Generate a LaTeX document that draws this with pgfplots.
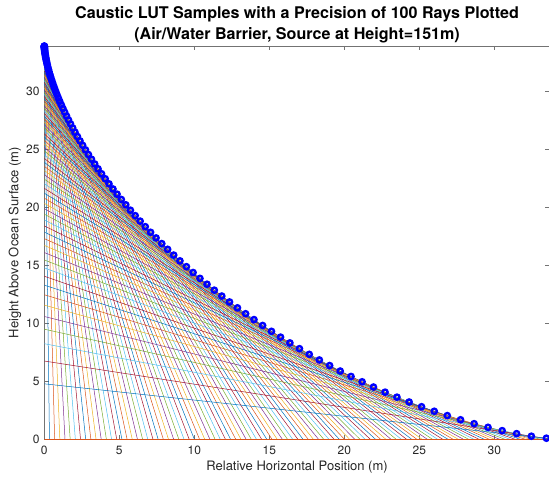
\documentclass[border=0pt]{standalone}
\usepackage{fontspec}
\setmainfont{TeX Gyre Heros}
\usepackage{pgfplots}
\pgfplotsset{compat=1.18}
\definecolor{m1}{rgb}{0,0.447,0.741}
\definecolor{m2}{rgb}{0.85,0.325,0.098}
\definecolor{m3}{rgb}{0.929,0.694,0.125}
\definecolor{m4}{rgb}{0.494,0.184,0.556}
\definecolor{m5}{rgb}{0.466,0.674,0.188}
\definecolor{m6}{rgb}{0.301,0.745,0.933}
\definecolor{m7}{rgb}{0.635,0.078,0.184}
\definecolor{axgray}{rgb}{0.15,0.15,0.15}
\begin{document}
\begin{tikzpicture}
\begin{axis}[
  at={(0,0)}, anchor=south west,
  scale only axis, width=505.5pt, height=393.3pt,
  xmin=0, xmax=33.7, ymin=0, ymax=33.9,
  xtick={0,5,...,30}, ytick={0,5,...,30},
  tick align=inside, major tick length=4.5pt,
  axis line style={black!55, line width=0.5pt},
  every tick/.style={black!55, line width=0.5pt},
  tick label style={font=\fontsize{12}{14}\selectfont, text=axgray},
  /pgf/number format/assume math mode=true,
  xticklabel style={yshift=-3.5pt},
  yticklabel style={xshift=-1.3pt},
  title={Caustic LUT Samples with a Precision of 100 Rays Plotted\\(Air/Water Barrier, Source at Height=151m)},
  title style={at={(axis description cs:0.5,1)}, anchor=south, yshift=-3.5pt, inner sep=0pt, align=center, font=\bfseries\fontsize{16.1}{21}\selectfont, text=black},
  xlabel={Relative Horizontal Position (m)},
  ylabel={Height Above Ocean Surface (m)},
  every axis x label/.style={at={(axis description cs:0.5,-0.0697)}, anchor=center, font=\fontsize{13}{15}\selectfont, text=axgray},
  every axis y label/.style={at={(axis description cs:-0.058,0.5)}, rotate=90, anchor=center, font=\fontsize{13}{15}\selectfont, text=axgray},
  cycle list={{m1,mark=none,line width=0.5pt},{m2,mark=none,line width=0.5pt},{m3,mark=none,line width=0.5pt},{m4,mark=none,line width=0.5pt},{m5,mark=none,line width=0.5pt},{m6,mark=none,line width=0.5pt},{m7,mark=none,line width=0.5pt}},
]
\addplot coordinates {(0,33.898) (0.345,0)};
\addplot coordinates {(0,33.893) (0.69,0)};
\addplot coordinates {(0,33.885) (1.035,0)};
\addplot coordinates {(0,33.873) (1.38,0)};
\addplot coordinates {(0,33.858) (1.725,0)};
\addplot coordinates {(0,33.839) (2.07,0)};
\addplot coordinates {(0,33.817) (2.415,0)};
\addplot coordinates {(0,33.791) (2.76,0)};
\addplot coordinates {(0,33.762) (3.105,0)};
\addplot coordinates {(0,33.730) (3.45,0)};
\addplot coordinates {(0,33.694) (3.795,0)};
\addplot coordinates {(0,33.655) (4.14,0)};
\addplot coordinates {(0,33.612) (4.485,0)};
\addplot coordinates {(0,33.566) (4.83,0)};
\addplot coordinates {(0,33.517) (5.175,0)};
\addplot coordinates {(0,33.463) (5.52,0)};
\addplot coordinates {(0,33.406) (5.865,0)};
\addplot coordinates {(0,33.346) (6.21,0)};
\addplot coordinates {(0,33.282) (6.555,0)};
\addplot coordinates {(0,33.215) (6.9,0)};
\addplot coordinates {(0,33.144) (7.245,0)};
\addplot coordinates {(0,33.069) (7.59,0)};
\addplot coordinates {(0,32.991) (7.935,0)};
\addplot coordinates {(0,32.909) (8.28,0)};
\addplot coordinates {(0,32.824) (8.625,0)};
\addplot coordinates {(0,32.734) (8.97,0)};
\addplot coordinates {(0,32.641) (9.315,0)};
\addplot coordinates {(0,32.544) (9.66,0)};
\addplot coordinates {(0,32.443) (10.005,0)};
\addplot coordinates {(0,32.339) (10.35,0)};
\addplot coordinates {(0,32.230) (10.695,0)};
\addplot coordinates {(0,32.118) (11.04,0)};
\addplot coordinates {(0,32.001) (11.385,0)};
\addplot coordinates {(0,31.881) (11.73,0)};
\addplot coordinates {(0,31.756) (12.075,0)};
\addplot coordinates {(0,31.627) (12.42,0)};
\addplot coordinates {(0,31.494) (12.765,0)};
\addplot coordinates {(0,31.357) (13.11,0)};
\addplot coordinates {(0,31.215) (13.455,0)};
\addplot coordinates {(0,31.070) (13.8,0)};
\addplot coordinates {(0,30.920) (14.145,0)};
\addplot coordinates {(0,30.765) (14.49,0)};
\addplot coordinates {(0,30.606) (14.835,0)};
\addplot coordinates {(0,30.442) (15.18,0)};
\addplot coordinates {(0,30.274) (15.525,0)};
\addplot coordinates {(0,30.100) (15.87,0)};
\addplot coordinates {(0,29.923) (16.215,0)};
\addplot coordinates {(0,29.739) (16.56,0)};
\addplot coordinates {(0,29.551) (16.905,0)};
\addplot coordinates {(0,29.358) (17.25,0)};
\addplot coordinates {(0,29.160) (17.595,0)};
\addplot coordinates {(0,28.956) (17.94,0)};
\addplot coordinates {(0,28.747) (18.285,0)};
\addplot coordinates {(0,28.533) (18.63,0)};
\addplot coordinates {(0,28.312) (18.975,0)};
\addplot coordinates {(0,28.086) (19.32,0)};
\addplot coordinates {(0,27.854) (19.665,0)};
\addplot coordinates {(0,27.616) (20.01,0)};
\addplot coordinates {(0,27.371) (20.355,0)};
\addplot coordinates {(0,27.120) (20.7,0)};
\addplot coordinates {(0,26.862) (21.045,0)};
\addplot coordinates {(0,26.598) (21.39,0)};
\addplot coordinates {(0,26.327) (21.735,0)};
\addplot coordinates {(0,26.048) (22.08,0)};
\addplot coordinates {(0,25.762) (22.425,0)};
\addplot coordinates {(0,25.468) (22.77,0)};
\addplot coordinates {(0,25.166) (23.115,0)};
\addplot coordinates {(0,24.856) (23.46,0)};
\addplot coordinates {(0,24.537) (23.805,0)};
\addplot coordinates {(0,24.209) (24.15,0)};
\addplot coordinates {(0,23.872) (24.495,0)};
\addplot coordinates {(0,23.526) (24.84,0)};
\addplot coordinates {(0,23.169) (25.185,0)};
\addplot coordinates {(0,22.801) (25.53,0)};
\addplot coordinates {(0,22.423) (25.875,0)};
\addplot coordinates {(0,22.032) (26.22,0)};
\addplot coordinates {(0,21.630) (26.565,0)};
\addplot coordinates {(0,21.214) (26.91,0)};
\addplot coordinates {(0,20.784) (27.255,0)};
\addplot coordinates {(0,20.340) (27.6,0)};
\addplot coordinates {(0,19.880) (27.945,0)};
\addplot coordinates {(0,19.403) (28.29,0)};
\addplot coordinates {(0,18.908) (28.635,0)};
\addplot coordinates {(0,18.394) (28.98,0)};
\addplot coordinates {(0,17.858) (29.325,0)};
\addplot coordinates {(0,17.299) (29.67,0)};
\addplot coordinates {(0,16.714) (30.015,0)};
\addplot coordinates {(0,16.101) (30.36,0)};
\addplot coordinates {(0,15.457) (30.705,0)};
\addplot coordinates {(0,14.777) (31.05,0)};
\addplot coordinates {(0,14.055) (31.395,0)};
\addplot coordinates {(0,13.286) (31.74,0)};
\addplot coordinates {(0,12.460) (32.085,0)};
\addplot coordinates {(0,11.566) (32.43,0)};
\addplot coordinates {(0,10.585) (32.775,0)};
\addplot coordinates {(0,9.492) (33.12,0)};
\addplot coordinates {(0,8.241) (33.465,0)};
\addplot coordinates {(0,6.746) (33.81,0)};
\addplot coordinates {(0,4.782) (34.155,0)};
\addplot coordinates {(0,0) (34.5,0)};
\addplot[only marks, mark=o, color=blue, mark size=2.6pt, line width=2.4pt] coordinates {
(0.0000,33.895) (0.0003,33.879) (0.0009,33.855) (0.0022,33.819) (0.0043,33.773)
(0.0075,33.717) (0.0118,33.651) (0.0177,33.575) (0.0252,33.489) (0.0345,33.393)
(0.0459,33.286) (0.0596,33.170) (0.0758,33.044) (0.0947,32.908) (0.1164,32.763)
(0.1413,32.606) (0.1695,32.441) (0.2012,32.266) (0.2366,32.081) (0.2760,31.886)
(0.3195,31.682) (0.3674,31.468) (0.4198,31.246) (0.4769,31.013) (0.5391,30.773)
(0.6064,30.521) (0.6791,30.261) (0.7573,29.993) (0.8414,29.715) (0.9315,29.428)
(1.0278,29.133) (1.1305,28.829) (1.2398,28.516) (1.3560,28.196) (1.4792,27.866)
(1.6096,27.528) (1.7475,27.183) (1.8931,26.829) (2.0465,26.467) (2.2080,26.099)
(2.3778,25.722) (2.5560,25.338) (2.7430,24.947) (2.9388,24.548) (3.1438,24.144)
(3.3581,23.731) (3.5819,23.313) (3.8154,22.887) (4.0589,22.456) (4.3125,22.019)
(4.5765,21.576) (4.8510,21.126) (5.1363,20.672) (5.4325,20.213) (5.7399,19.748)
(6.0588,19.278) (6.3892,18.804) (6.7314,18.326) (7.0856,17.843) (7.4520,17.357)
(7.8308,16.867) (8.2223,16.374) (8.6266,15.878) (9.0440,15.379) (9.4746,14.878)
(9.9186,14.374) (10.3763,13.869) (10.8479,13.363) (11.3336,12.855) (11.8335,12.347)
(12.3479,11.838) (12.8771,11.330) (13.4211,10.822) (13.9802,10.315) (14.5547,9.810)
(15.1447,9.306) (15.7504,8.806) (16.3720,8.307) (17.0098,7.813) (17.6640,7.322)
(18.3347,6.837) (19.0222,6.356) (19.7267,5.882) (20.4483,5.415) (21.1873,4.956)
(21.9439,4.505) (22.7184,4.063) (23.5108,3.632) (24.3214,3.214) (25.1505,2.808)
(25.9982,2.416) (26.8647,2.041) (27.7503,1.683) (28.6551,1.346) (29.5794,1.032)
(30.5234,0.744) (31.4872,0.487) (32.4711,0.267) (33.4753,0.095) (34.5000,0.000)
};
\end{axis}
\pgfresetboundingbox
\path[use as bounding box] (-44.3pt,-37.7pt) rectangle (504.7pt,439.3pt);
\end{tikzpicture}
\end{document}
